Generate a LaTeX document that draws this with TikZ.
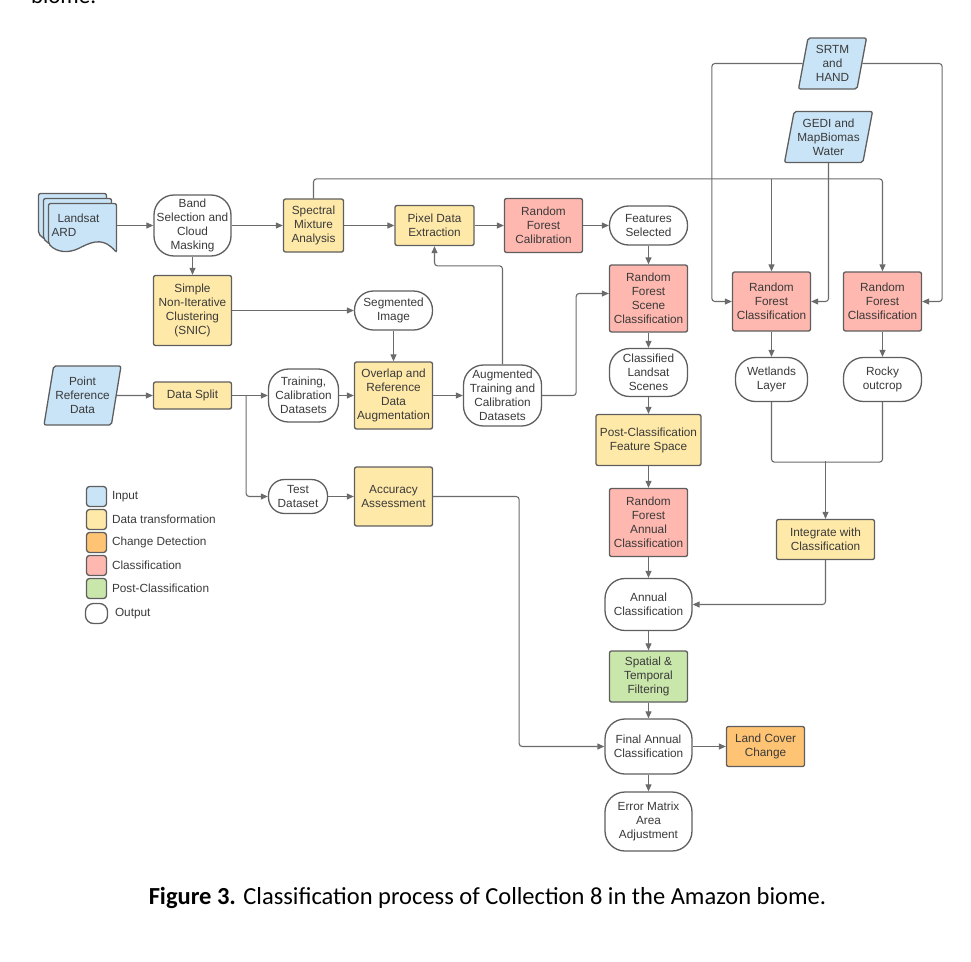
\documentclass[tikz,border=0pt]{standalone}
\usepackage{fontspec}
\setmainfont{Liberation Sans}
\newfontfamily\capfont{Carlito}
\usepackage{tikz}
\usetikzlibrary{shapes,shapes.geometric,arrows,arrows.meta,fit,calc,positioning}

\definecolor{inblue}{HTML}{C9E4F7}
\definecolor{transyellow}{HTML}{FFE9A8}
\definecolor{changeorange}{HTML}{FFC374}
\definecolor{classpink}{HTML}{FFB8AF}
\definecolor{postgreen}{HTML}{C9E6AB}
\definecolor{boxgray}{HTML}{5E5E5E}
\definecolor{linegray}{HTML}{6B6B6B}
\definecolor{txtgray}{HTML}{3A3A3A}

\begin{document}
\begin{tikzpicture}[%
x=1pt, y=1pt,
>={Triangle[length=7pt,width=6pt]},
node distance=80pt,
on grid,
auto,
every node/.style={text=txtgray, font=\fontsize{11.8}{14}\selectfont},
box/.style={draw=boxgray, line width=1.3pt, rounded corners=2pt, align=center, inner sep=1pt, minimum width=78pt},
input/.style={box, fill=inblue, shape=trapezium, trapezium left angle=76, trapezium right angle=104, trapezium stretches body},
transf/.style={box, fill=transyellow},
classify/.style={box, fill=classpink},
post/.style={box, fill=postgreen},
change/.style={box, fill=changeorange},
output/.style={box, fill=white, rounded corners=#1},
output/.default=19pt,
page/.style={draw=boxgray, line width=1.3pt, fill=inblue, rounded corners=2pt},
link/.style={->, draw=linegray, line width=1.1pt, rounded corners=3pt},
legsq/.style={draw=boxgray, line width=1.3pt, rounded corners=3pt, minimum width=20pt, minimum height=20pt, inner sep=0pt}
]
\useasboundingbox (-0.5,0.5) rectangle (970.5,-960.5);

% stacked Landsat pages
\draw[page] (38,-193) -- (106,-193) -- (106,-242) .. controls (94,-228) and (84,-230) .. (70,-237) .. controls (58,-243) and (46,-242) .. (38,-233) -- cycle;
\draw[page] (43,-198) -- (111,-198) -- (111,-247) .. controls (99,-233) and (89,-235) .. (75,-242) .. controls (63,-248) and (51,-247) .. (43,-238) -- cycle;
\draw[page] (48,-203) -- (116,-203) -- (116,-252) .. controls (104,-238) and (94,-240) .. (80,-247) .. controls (68,-253) and (56,-252) .. (48,-243) -- cycle;

\node[align=left, text width=62pt, inner xsep=3pt, inner ysep=1pt, minimum width=68pt] (landsat) at (82,-225) {\hspace*{6pt}Landsat\\ARD};

% first row
\node[output=20pt, minimum width=77pt, minimum height=61pt] (band) at (192,-225) {Band\\Selection and\\Cloud\\Masking};
\node[transf, minimum width=60pt, minimum height=53pt] (sma) [right=121pt of band] {Spectral\\Mixture\\Analysis};
\node[transf, minimum width=79pt, minimum height=40pt] (pixel) [right=121pt of sma] {Pixel Data\\Extraction};
\node[classify, minimum height=54pt] (rfcal) [right=109pt of pixel] {Random\\Forest\\Calibration};
\node[output, minimum height=39pt] (feat) [right=105pt of rfcal] {Features\\Selected};

% segmentation and reference data
\node[transf, minimum height=70pt] (snic) [below=85pt of band] {Simple\\Non-Iterative\\Clustering\\(SNIC)};
\node[output, minimum height=39pt] (segimg) [right=201pt of snic] {Segmented\\Image};
\node[transf, minimum height=27pt] (split) [below=85pt of snic] {Data Split};
\node[input, minimum width=77pt, minimum height=59pt] (point) [left=110pt of split] {Point\\Reference\\Data};
\node[output=20pt, minimum width=70pt, minimum height=53pt] (train) [right=111pt of split] {Training,\\Calibration\\Datasets};
\node[transf, minimum height=67pt] (overlap) [right=90pt of train] {Overlap and\\Reference\\Data\\Augmentation};
\node[output=20pt, minimum height=61pt] (augm) [right=109pt of overlap] {Augmented\\Training and\\Calibration\\Datasets};
\node[output=16pt, minimum width=59pt, minimum height=34pt] (test) [below left=101pt and 5.5pt of train] {Test\\Dataset};
\node[transf, minimum height=59pt] (accu) [below=101pt of overlap] {Accuracy\\Assessment};

% main column
\node[classify, minimum height=67pt] (rfscene) [below=73pt of feat] {Random\\Forest\\Scene\\Classification};
\node[output=20pt, minimum height=48pt] (scenes) [below=74pt of rfscene] {Classified\\Landsat\\Scenes};
\node[transf, minimum width=105pt, minimum height=51pt] (postfs) [below=67.5pt of scenes] {Post-Classification\\Feature Space};
\node[classify, minimum height=68pt] (rfannual) [below=82.5pt of postfs] {Random\\Forest\\Annual\\Classification};
\node[output=20pt, minimum width=87pt, minimum height=52pt] (annual) [below=82pt of rfannual] {Annual\\Classification};
\node[post, minimum height=51pt] (filter) [below=72pt of annual] {Spatial \&\\Temporal\\Filtering};
\node[output=20pt, minimum width=87pt, minimum height=55pt] (final) [below=70pt of filter] {Final Annual\\Classification};
\node[output=20pt, minimum width=87pt, minimum height=59pt] (errmat) [below=75pt of final] {Error Matrix\\Area\\Adjustment};
\node[change, minimum height=40pt] (lcc) [right=117pt of final] {Land Cover\\Change};

% ancillary data
\node[input, minimum width=68pt, minimum height=51pt] (srtm) at (832,-63) {SRTM\\and\\HAND};
\node[input, minimum width=88pt, minimum height=51pt] (gedi) at (828,-136.5) {GEDI and\\MapBiomas\\Water};
\node[classify, minimum height=59pt] (rfwet) at (771,-301) {Random\\Forest\\Classification};
\node[classify, minimum height=59pt] (rfrock) [right=111pt of rfwet] {Random\\Forest\\Classification};
\node[output=20pt, minimum width=72pt, minimum height=44pt] (wetl) [below=78pt of rfwet] {Wetlands\\Layer};
\node[output=20pt, minimum height=44pt] (rocky) [below=78pt of rfrock] {Rocky\\outcrop};
\node[transf, minimum width=98pt, minimum height=40pt] (integ) at (825,-539) {Integrate with\\Classification};

% legend
\node[legsq, fill=inblue] (lgin) at (96,-496) {};
\node[anchor=west] (lgintxt) at (108,-496) {Input};
\node[legsq, fill=transyellow] (lgtr) at (96,-519) {};
\node[anchor=west] (lgtrtxt) at (108,-519) {Data transformation};
\node[legsq, fill=changeorange] (lgch) at (96,-542) {};
\node[anchor=west] (lgchtxt) at (108,-542) {Change Detection};
\node[legsq, fill=classpink] (lgcl) at (96,-565) {};
\node[anchor=west] (lgcltxt) at (108,-565) {Classification};
\node[legsq, fill=postgreen] (lgpo) at (96,-588) {};
\node[anchor=west] (lgpotxt) at (108,-588) {Post-Classification};
\node[legsq, fill=white, minimum width=22pt, rounded corners=8pt] (lgou) at (96,-613) {};
\node[anchor=west] (lgoutxt) at (111,-613) {Output};

% straight links
\draw[link] (landsat) -- (band);
\draw[link] (band) -- (sma);
\draw[link] (sma) -- (pixel);
\draw[link] (pixel) -- (rfcal);
\draw[link] (rfcal) -- (feat);
\draw[link] (feat) -- (rfscene);
\draw[link] (band) -- (snic);
\draw[link] (snic) -- (segimg);
\draw[link] (segimg) -- (overlap);
\draw[link] (point) -- (split);
\draw[link] (split) -- (train);
\draw[link] (train) -- (overlap);
\draw[link] (overlap) -- (augm);
\draw[link] (test) -- (accu);
\draw[link] (rfscene) -- (scenes);
\draw[link] (scenes) -- (postfs);
\draw[link] (postfs) -- (rfannual);
\draw[link] (rfannual) -- (annual);
\draw[link] (annual) -- (filter);
\draw[link] (filter) -- (final);
\draw[link] (final) -- (errmat);
\draw[link] (final) -- (lcc);
\draw[link] (rfwet) -- (wetl);
\draw[link] (rfrock) -- (rocky);

% bent links
\draw[link] ([xshift=14pt]split.east) |- (test.west);
\draw[link] (augm.north) -- ++(0,98.5) -| (pixel.south);
\draw[link] (augm.east) -- ++(34,0) |- ([yshift=5pt]rfscene.west);
\draw[link] (sma.north) |- ([yshift=92.5pt]rfrock.north) -- (rfrock.north);
\draw[link] ([yshift=92.5pt]rfwet.north) -- (rfwet.north);
\draw[link] (srtm.west) -| ([xshift=-20pt]rfwet.west) -- (rfwet.west);
\draw[link] (srtm.east) -| ([xshift=20pt]rfrock.east) -- (rfrock.east);
\draw[link] (gedi.south) |- (rfwet.east);
\draw[link, -] (wetl.south) -- ++(0,-60) -| (rocky.south);
\draw[link] ([yshift=58pt]integ.north) -- (integ.north);
\draw[link] (integ.south) |- (annual.east);
\draw[link] (accu.east) -- ++(86,0) |- (final.west);

% caption
\node[anchor=base west, text=black, font=\capfont\fontsize{23}{27}\selectfont] (prevline) at (27,-3) {biome.};
\node[anchor=base, text=black, font=\capfont\fontsize{24.5}{29}\selectfont] (caption) at (487,-904) {\textbf{Figure 3.} Classification process of Collection 8 in the Amazon biome.};
\end{tikzpicture}
\end{document}
